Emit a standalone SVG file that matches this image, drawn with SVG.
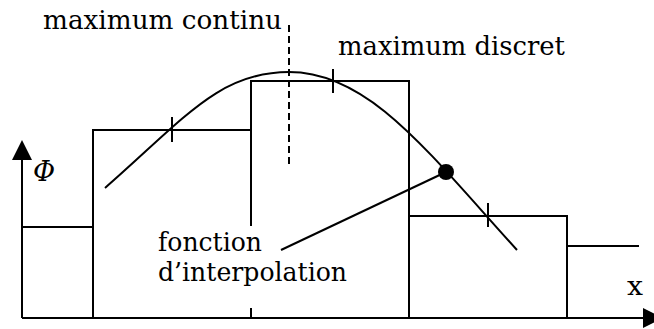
<svg xmlns="http://www.w3.org/2000/svg" width="654" height="329" viewBox="0 0 654 329">
<style>
.ln{fill:none;stroke:#000;stroke-width:2}
.t{font-family:"DejaVu Serif","Liberation Serif",serif;font-size:26px;fill:#000}
</style>
<rect width="654" height="329" fill="#fff"/>
<g id="axes">
<line class="ln" x1="22" y1="318" x2="22" y2="156"/>
<polygon points="22,140 12,160 32,160" fill="#000"/>
<line class="ln" x1="22" y1="318" x2="646" y2="318"/>
<polygon points="663,318 643,308 643,328" fill="#000"/>
<text x="33" y="181" style="font-family:'DejaVu Serif','Liberation Serif',serif;font-size:27px;font-style:italic">Φ</text>
<text class="t" x="627" y="295" textLength="16" lengthAdjust="spacingAndGlyphs">x</text>
</g>
<g id="steps">
<polyline class="ln" points="22,227 93,227"/>
<rect class="ln" x="93" y="130" width="158" height="188"/>
<rect class="ln" x="251" y="81" width="158" height="237"/>
<rect class="ln" x="409" y="216" width="158" height="102"/>
<polyline class="ln" points="567,246 639,246"/>
</g>
<g id="curve">
<path class="ln" d="M105,188 C185,118 219,72 289,72 C369,72 427,151 517,250"/>
<line class="ln" x1="172" y1="117" x2="172" y2="142"/>
<line class="ln" x1="333" y1="69" x2="333" y2="93"/>
<line class="ln" x1="488" y1="203" x2="488" y2="227"/>
</g>
<g id="max-continu">
<line class="ln" x1="289" y1="25" x2="289" y2="165" stroke-dasharray="7,4"/>
<text class="t" x="43" y="29" textLength="239" lengthAdjust="spacingAndGlyphs">maximum continu</text>
</g>
<g id="max-discret">
<text class="t" x="338" y="55" textLength="227" lengthAdjust="spacingAndGlyphs">maximum discret</text>
</g>
<g id="interpolation">
<rect x="240" y="226" width="40" height="82" fill="#fff"/>
<text class="t" x="158" y="251" textLength="104" lengthAdjust="spacingAndGlyphs">fonction</text>
<text class="t" x="158" y="281" textLength="189" lengthAdjust="spacingAndGlyphs">d’interpolation</text>
</g>
<g id="connectors">
<line class="ln" x1="281" y1="250" x2="446" y2="172"/>
<circle cx="446" cy="172" r="8" fill="#000"/>
</g>
</svg>
